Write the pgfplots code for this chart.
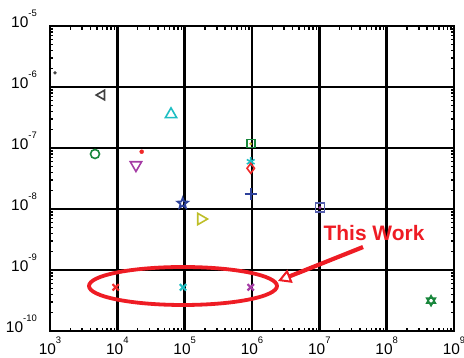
\documentclass[border=0pt]{standalone}
\usepackage{fontspec}
\setmainfont{Liberation Sans}
\usepackage{pgfplots}
\pgfplotsset{compat=1.18}
\usetikzlibrary{arrows.meta}

\definecolor{cgray}{RGB}{64,64,64}
\definecolor{cgreen}{RGB}{25,135,60}
\definecolor{cred}{RGB}{240,40,40}
\definecolor{cmag}{RGB}{165,60,165}
\definecolor{ccyan}{RGB}{30,190,195}
\definecolor{cblue}{RGB}{45,65,155}
\definecolor{colive}{RGB}{190,190,40}
\definecolor{cblueb}{RGB}{85,95,175}
\definecolor{note}{RGB}{238,28,36}

% five-pointed star outline
\pgfdeclareplotmark{pentagram}{%
  \pgfpathmoveto{\pgfqpointpolar{90}{\pgfplotmarksize}}%
  \pgfpathlineto{\pgfqpointpolar{126}{0.42\pgfplotmarksize}}%
  \pgfpathlineto{\pgfqpointpolar{162}{\pgfplotmarksize}}%
  \pgfpathlineto{\pgfqpointpolar{198}{0.42\pgfplotmarksize}}%
  \pgfpathlineto{\pgfqpointpolar{234}{\pgfplotmarksize}}%
  \pgfpathlineto{\pgfqpointpolar{270}{0.42\pgfplotmarksize}}%
  \pgfpathlineto{\pgfqpointpolar{306}{\pgfplotmarksize}}%
  \pgfpathlineto{\pgfqpointpolar{342}{0.42\pgfplotmarksize}}%
  \pgfpathlineto{\pgfqpointpolar{18}{\pgfplotmarksize}}%
  \pgfpathlineto{\pgfqpointpolar{54}{0.42\pgfplotmarksize}}%
  \pgfpathclose
  \pgfusepathqstroke}

% decade label: 10 with a raised exponent
\newcommand{\dec}[1]{10\raisebox{10.5bp}{\fontsize{9.5}{9.5}\selectfont #1}}

\begin{document}
\begin{tikzpicture}
\begin{axis}[
  at={(0,0)}, anchor=south west,
  scale only axis, width=404bp, height=305bp,
  xmode=log, ymode=log,
  xmin=1e3, xmax=1e9, ymin=1e-10, ymax=1e-5,
  xtick={1e3,1e4,1e5,1e6,1e7,1e8,1e9},
  xticklabels={\dec{3},\dec{4},\dec{5},\dec{6},\dec{7},\dec{8},\dec{9}},
  ytick={1e-10,1e-9,1e-8,1e-7,1e-6,1e-5},
  yticklabels={\dec{-10},\dec{-9},\dec{-8},\dec{-7},\dec{-6},\dec{-5}},
  minor xtick={2e3,3e3,4e3,5e3,6e3,7e3,8e3,9e3,
               2e4,3e4,4e4,5e4,6e4,7e4,8e4,9e4,
               2e5,3e5,4e5,5e5,6e5,7e5,8e5,9e5,
               2e6,3e6,4e6,5e6,6e6,7e6,8e6,9e6,
               2e7,3e7,4e7,5e7,6e7,7e7,8e7,9e7,
               2e8,3e8,4e8,5e8,6e8,7e8,8e8,9e8},
  minor ytick={2e-10,3e-10,4e-10,5e-10,6e-10,7e-10,8e-10,9e-10,
               2e-9,3e-9,4e-9,5e-9,6e-9,7e-9,8e-9,9e-9,
               2e-8,3e-8,4e-8,5e-8,6e-8,7e-8,8e-8,9e-8,
               2e-7,3e-7,4e-7,5e-7,6e-7,7e-7,8e-7,9e-7,
               2e-6,3e-6,4e-6,5e-6,6e-6,7e-6,8e-6,9e-6},
  tick align=inside,
  major tick length=0pt,
  minor tick length=3.5bp,
  minor tick style={black, line width=1.5bp},
  grid=major,
  major grid style={black, line width=2.5bp},
  axis line style={black, line width=2.8bp},
  ticklabel style={font=\fontsize{15.5}{15.5}\selectfont},
  xticklabel style={anchor=base, inner sep=0pt, yshift=-23bp},
  yticklabel style={anchor=base east, inner sep=0pt, xshift=-13bp, yshift=-1bp},
  clip=false,
]
% published results
\addplot[only marks, mark=*, color=cgray, mark size=1.5bp] coordinates {(1187,1.70e-6)};
\addplot[only marks, mark=triangle, color=cgray, mark size=5.5bp,
  mark options={rotate=90, line width=1.6bp}] coordinates {(5.86e3,7.39e-7)};
\addplot[only marks, mark=o, color=cgreen, mark size=4.5bp,
  mark options={line width=1.6bp}] coordinates {(4.66e3,7.98e-8)};
\addplot[only marks, mark=*, color=cred, mark size=2bp] coordinates {(2.30e4,8.69e-8)};
\addplot[only marks, mark=triangle, color=cmag, mark size=6.5bp,
  mark options={rotate=180, line width=1.6bp}] coordinates {(1.89e4,5.26e-8)};
\addplot[only marks, mark=triangle, color=ccyan, mark size=6.5bp,
  mark options={line width=1.6bp}] coordinates {(6.27e4,3.56e-7)};
\addplot[only marks, mark=square, color=cgreen, mark size=4bp,
  mark options={line width=1.6bp}] coordinates {(9.57e5,1.19e-7)};
\addplot[only marks, mark=*, color=colive, mark size=1.3bp] coordinates {(9.57e5,1.17e-7)};
\addplot[only marks, mark=asterisk, color=ccyan, mark size=4.5bp,
  mark options={line width=1.6bp}] coordinates {(9.57e5,5.96e-8)};
\addplot[only marks, mark=diamond, color=cred, mark size=5bp,
  mark options={line width=1.6bp}] coordinates {(9.57e5,4.65e-8)};
\addplot[only marks, mark=+, color=cblue, mark size=6bp,
  mark options={line width=1.6bp}] coordinates {(9.57e5,1.76e-8)};
\addplot[only marks, mark=pentagram, color=cblue, mark size=5.5bp,
  mark options={line width=1.7bp}] coordinates {(9.35e4,1.24e-8)};
\addplot[only marks, mark=triangle, color=colive, mark size=6.5bp,
  mark options={rotate=-90, line width=1.6bp}] coordinates {(1.75e5,6.86e-9)};
\addplot[only marks, mark=square, color=cblueb, mark size=4.5bp,
  mark options={line width=1.6bp}] coordinates {(1.02e7,1.05e-8)};
\addplot[only marks, mark=*, color=cmag, mark size=1.3bp] coordinates {(1.02e7,1.05e-8)};
\addplot[only marks, mark=triangle, color=cgreen, mark size=5bp,
  mark options={line width=1.6bp}] coordinates {(4.56e8,3.14e-10)};
\addplot[only marks, mark=triangle, color=cgreen, mark size=5bp,
  mark options={rotate=180, line width=1.6bp}] coordinates {(4.56e8,3.14e-10)};
% this work
\addplot[only marks, mark=x, color=cred, mark size=4.5bp,
  mark options={line width=2.2bp}] coordinates {(9.46e3,5.2e-10)};
\addplot[only marks, mark=x, color=ccyan, mark size=4.5bp,
  mark options={line width=2.2bp}] coordinates {(9.44e4,5.2e-10)};
\addplot[only marks, mark=x, color=cmag, mark size=4.5bp,
  mark options={line width=2.2bp}] coordinates {(9.57e5,5.2e-10)};

% annotation
\draw[note, line width=3.8bp] (axis cs:9.44e4,5.47e-10) ellipse [x radius=94bp, y radius=19bp];
\draw[note, line width=4.2bp, -{Triangle[open, length=13bp, width=14bp, line width=2bp]}]
  (axis cs:4.46e7,2.38e-9) -- (axis cs:2.43e6,6.61e-10);
\node[note, anchor=base, inner sep=0pt, font=\bfseries\fontsize{21}{21}\selectfont]
  at (axis cs:6.49e7,3.10e-9) {This Work};
\end{axis}
\pgfresetboundingbox
\useasboundingbox (-50bp,-27bp) rectangle (414bp,331bp);
\end{tikzpicture}
\end{document}
